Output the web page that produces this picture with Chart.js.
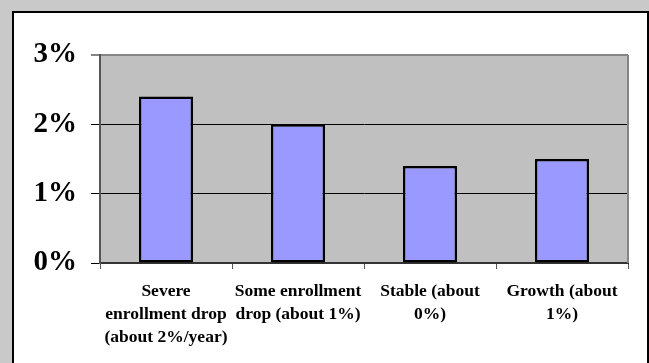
<!DOCTYPE html>
<html>
<head>
<meta charset="utf-8">
<script src="https://cdn.jsdelivr.net/npm/chart.js@4/dist/chart.umd.min.js"></script>
<style>
  html, body { margin: 0; padding: 0; background: #c9c9c9; }
  #wrap { width: 649px; height: 363px; position: relative; }
</style>
</head>
<body>
<div id="wrap"><canvas id="c" width="649" height="363"></canvas></div>
<script>
// Enrollment scenarios and the rate for each
const categories = [
  ['Severe', 'enrollment drop', '(about 2%/year)'],
  ['Some enrollment', 'drop (about 1%)'],
  ['Stable (about', '0%)'],
  ['Growth (about', '1%)']
];
const rates = [2.4, 2.0, 1.4, 1.5];
const yTicks = [0, 1, 2, 3];

const SERIF = '"Liberation Serif", "Times New Roman", serif';

// Frame: grey page, white panel with black border, grey plot area
const framePlugin = {
  id: 'frame',
  beforeDraw(chart) {
    const ctx = chart.ctx;
    const a = chart.chartArea;
    ctx.save();
    ctx.fillStyle = '#c9c9c9';
    ctx.fillRect(0, 0, chart.width, chart.height);
    ctx.fillStyle = '#ffffff';
    ctx.fillRect(12, 11, 636, chart.height);
    ctx.strokeStyle = '#000000';
    ctx.lineWidth = 2;
    ctx.beginPath();
    ctx.moveTo(13, chart.height + 2);
    ctx.lineTo(13, 12);
    ctx.lineTo(648, 12);
    ctx.lineTo(648, chart.height + 2);
    ctx.stroke();
    ctx.fillStyle = '#c0c0c0';
    ctx.fillRect(a.left, a.top, a.right - a.left, a.bottom - a.top);
    ctx.restore();
  },
  afterDatasetsDraw(chart) {
    const ctx = chart.ctx;
    const a = chart.chartArea;
    ctx.save();
    ctx.strokeStyle = '#858585';
    ctx.lineWidth = 2;
    ctx.beginPath();
    ctx.moveTo(a.right, a.top);
    ctx.lineTo(a.right, a.bottom);
    ctx.stroke();
    ctx.restore();
  }
};

new Chart(document.getElementById('c'), {
  type: 'bar',
  data: {
    labels: categories,
    datasets: [{
      data: rates,
      backgroundColor: '#9999ff',
      borderColor: '#000000',
      borderWidth: 2.5,
      borderSkipped: false,
      barPercentage: 0.41,
      categoryPercentage: 1.0
    }]
  },
  options: {
    responsive: false,
    animation: false,
    events: [],
    layout: { padding: { top: 55, right: 21, bottom: 0, left: 0 } },
    plugins: { legend: { display: false }, tooltip: { enabled: false } },
    scales: {
      x: {
        grid: {
          offset: true,
          drawOnChartArea: false,
          drawTicks: true,
          tickLength: 6,
          color: '#555555',
          lineWidth: 1
        },
        border: { display: true, color: '#333333', width: 2 },
        ticks: {
          color: '#000000',
          padding: 11,
          maxRotation: 0,
          autoSkip: false,
          font: { family: SERIF, size: 17.5, weight: 'bold', lineHeight: 1.32 }
        },
        afterFit(scale) { scale.height = 100; }
      },
      y: {
        min: 0,
        max: 3,
        afterBuildTicks(scale) { scale.ticks = yTicks.map(v => ({ value: v })); },
        grid: {
          color: ctx => (ctx.tick && ctx.tick.value === 3) ? '#858585' : '#000000',
          lineWidth: ctx => (ctx.tick && ctx.tick.value === 3) ? 2 : 1,
          tickLength: 9,
          drawTicks: true
        },
        border: { display: true, color: '#555555', width: 2 },
        ticks: {
          color: '#000000',
          padding: 14,
          callback: v => v + '%',
          font: { family: SERIF, size: 29, weight: 'bold' }
        },
        afterFit(scale) { scale.width = 100; }
      }
    }
  },
  plugins: [framePlugin]
});
</script>
</body>
</html>
